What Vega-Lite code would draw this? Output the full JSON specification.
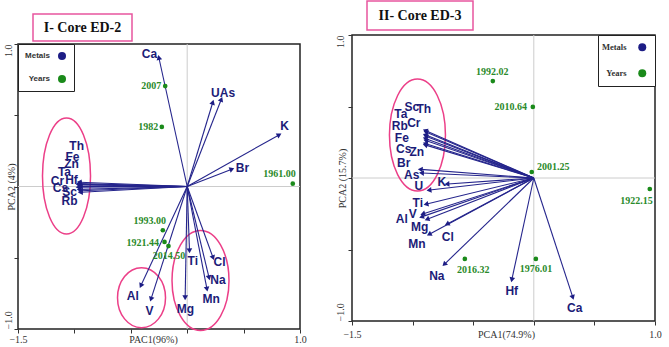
{
  "$schema": "https://vega.github.io/schema/vega-lite/v6.json",
  "background": "white",
  "padding": {"left": 2, "right": 0, "top": 0, "bottom": 0},
  "spacing": 27,
  "resolve": {"scale": {"color": "independent"}, "legend": {"color": "independent"}},
  "config": {
    "view": {"stroke": null},
    "font": "Liberation Sans",
    "axis": {
      "grid": false, "domain": false, "ticks": true, "tickSize": 4, "tickColor": "#333",
      "labelFont": "Liberation Serif", "labelFontSize": 10, "labelColor": "#333",
      "labelOverlap": false, "labelFlush": false, "labelBound": false,
      "titleFont": "Liberation Serif", "titleFontSize": 10, "titleFontWeight": "normal", "titleColor": "#333"
    },
    "axisX": {
      "format": ".1f",
      "labelExpr": "datum.index == 0 || datum.index == 1 ? datum.label : ''",
      "titleBaseline": "top", "titleAlign": "center"
    },
    "axisY": {
      "format": ".1f",
      "labelExpr": "datum.index == 0 || datum.index == 1 ? datum.label : ''",
      "labelAngle": 270, "labelBaseline": "bottom",
      "titleAngle": 270, "titleBaseline": "bottom"
    }
  },
  "datasets": {
    "metalsED2": [
      {"metal": "Ca", "x": -0.25, "y": 0.9, "labelX": -0.334, "labelY": 0.93},
      {"metal": "U", "x": 0.225, "y": 0.586, "labelX": 0.25, "labelY": 0.656},
      {"metal": "As", "x": 0.3, "y": 0.607, "labelX": 0.357, "labelY": 0.656},
      {"metal": "K", "x": 0.81, "y": 0.36, "labelX": 0.863, "labelY": 0.424},
      {"metal": "Br", "x": 0.39, "y": 0.12, "labelX": 0.49, "labelY": 0.13},
      {"metal": "Th", "x": -0.95, "y": 0.03, "labelX": -0.98, "labelY": 0.284},
      {"metal": "Fe", "x": -0.95, "y": 0.02, "labelX": -1.017, "labelY": 0.207},
      {"metal": "Zn", "x": -0.95, "y": 0.01, "labelX": -1.026, "labelY": 0.158},
      {"metal": "Ta", "x": -0.96, "y": 0.015, "labelX": -1.088, "labelY": 0.102},
      {"metal": "Hf", "x": -0.94, "y": 0.0, "labelX": -1.026, "labelY": 0.046},
      {"metal": "Cr", "x": -0.96, "y": -0.005, "labelX": -1.15, "labelY": 0.039},
      {"metal": "Cs", "x": -0.95, "y": -0.02, "labelX": -1.123, "labelY": -0.011},
      {"metal": "Sc", "x": -0.94, "y": -0.03, "labelX": -1.043, "labelY": -0.039},
      {"metal": "Rb", "x": -0.94, "y": -0.04, "labelX": -1.043, "labelY": -0.102},
      {"metal": "Ti", "x": 0.02, "y": -0.446, "labelX": 0.05, "labelY": -0.523},
      {"metal": "Cl", "x": 0.227, "y": -0.495, "labelX": 0.286, "labelY": -0.528},
      {"metal": "Na", "x": 0.192, "y": -0.635, "labelX": 0.272, "labelY": -0.658},
      {"metal": "Mn", "x": 0.174, "y": -0.715, "labelX": 0.213, "labelY": -0.79},
      {"metal": "Mg", "x": -0.018, "y": -0.775, "labelX": -0.015, "labelY": -0.862},
      {"metal": "Al", "x": -0.408, "y": -0.691, "labelX": -0.482, "labelY": -0.768},
      {"metal": "V", "x": -0.319, "y": -0.785, "labelX": -0.334, "labelY": -0.874}
    ],
    "yearsED2": [
      {"year": "2007", "x": -0.195, "y": 0.705, "labelX": -0.319, "labelY": 0.705},
      {"year": "1982", "x": -0.225, "y": 0.418, "labelX": -0.346, "labelY": 0.418},
      {"year": "1961.00", "x": 0.936, "y": 0.02, "labelX": 0.818, "labelY": 0.09},
      {"year": "1993.00", "x": -0.216, "y": -0.307, "labelX": -0.331, "labelY": -0.242},
      {"year": "1921.44", "x": -0.201, "y": -0.389, "labelX": -0.394, "labelY": -0.394},
      {"year": "2014.50", "x": -0.166, "y": -0.418, "labelX": -0.161, "labelY": -0.488}
    ],
    "metalsED3": [
      {"metal": "Sc", "x": -0.89, "y": 0.33, "labelX": -1.007, "labelY": 0.497},
      {"metal": "Th", "x": -0.885, "y": 0.32, "labelX": -0.908, "labelY": 0.483},
      {"metal": "Ta", "x": -0.89, "y": 0.3, "labelX": -1.097, "labelY": 0.448},
      {"metal": "Cr", "x": -0.885, "y": 0.29, "labelX": -0.99, "labelY": 0.385},
      {"metal": "Rb", "x": -0.89, "y": 0.275, "labelX": -1.106, "labelY": 0.364},
      {"metal": "Fe", "x": -0.885, "y": 0.26, "labelX": -1.089, "labelY": 0.28},
      {"metal": "Cs", "x": -0.89, "y": 0.24, "labelX": -1.073, "labelY": 0.203},
      {"metal": "Zn", "x": -0.89, "y": 0.23, "labelX": -0.965, "labelY": 0.182},
      {"metal": "Br", "x": -0.93, "y": 0.06, "labelX": -1.073, "labelY": 0.105},
      {"metal": "As", "x": -0.92, "y": 0.035, "labelX": -1.007, "labelY": 0.021},
      {"metal": "U", "x": -0.858, "y": -0.084, "labelX": -0.949, "labelY": -0.056},
      {"metal": "K", "x": -0.71, "y": -0.042, "labelX": -0.759, "labelY": -0.028},
      {"metal": "Ti", "x": -0.883, "y": -0.182, "labelX": -0.957, "labelY": -0.175},
      {"metal": "Al", "x": -0.92, "y": -0.27, "labelX": -1.089, "labelY": -0.287},
      {"metal": "V", "x": -0.91, "y": -0.25, "labelX": -0.998, "labelY": -0.252},
      {"metal": "Mg", "x": -0.875, "y": -0.287, "labelX": -0.941, "labelY": -0.343},
      {"metal": "Mn", "x": -0.858, "y": -0.392, "labelX": -0.965, "labelY": -0.462},
      {"metal": "Cl", "x": -0.71, "y": -0.32, "labelX": -0.71, "labelY": -0.413},
      {"metal": "Na", "x": -0.734, "y": -0.6, "labelX": -0.8, "labelY": -0.685},
      {"metal": "Hf", "x": -0.18, "y": -0.706, "labelX": -0.182, "labelY": -0.79},
      {"metal": "Ca", "x": 0.32, "y": -0.83, "labelX": 0.338, "labelY": -0.909}
    ],
    "yearsED3": [
      {"year": "1992.02", "x": -0.338, "y": 0.678, "labelX": -0.342, "labelY": 0.739},
      {"year": "2010.64", "x": -0.008, "y": 0.497, "labelX": -0.19, "labelY": 0.494},
      {"year": "2001.25", "x": -0.017, "y": 0.042, "labelX": 0.16, "labelY": 0.075},
      {"year": "1922.15", "x": 0.957, "y": -0.077, "labelX": 0.847, "labelY": -0.163},
      {"year": "2016.32", "x": -0.569, "y": -0.566, "labelX": -0.5, "labelY": -0.641},
      {"year": "1976.01", "x": 0.017, "y": -0.566, "labelX": 0.019, "labelY": -0.636}
    ]
  },
  "hconcat": [
    {
      "spacing": 0,
      "resolve": {"scale": {"color": "independent"}, "legend": {"color": "independent"}},
      "vconcat": [
        {"width": 1, "height": 12, "data": {"values": [{"blank": ""}]}, "mark": {"type": "text", "fontSize": 0}, "encoding": {"text": {"field": "blank"}}},
        {
          "spacing": 13,
          "hconcat": [
            {"width": 1, "height": 27, "data": {"values": [{"blank": ""}]}, "mark": {"type": "text", "fontSize": 0}, "encoding": {"text": {"field": "blank"}}},
            {
              "width": 99, "height": 27,
              "view": {"stroke": "#e8559f", "strokeWidth": 1.5},
              "data": {"values": [{"title": "I- Core ED-2"}]},
              "mark": {"type": "text", "font": "Liberation Serif", "fontWeight": "bold", "fontSize": 14, "color": "#111"},
              "encoding": {"text": {"field": "title"}}
            }
          ]
        },
        {
          "width": 282, "height": 285,
          "view": {"stroke": "#222", "strokeWidth": 1.5},
          "layer": [
            {
              "data": {"values": [{"origin": 0}]},
              "mark": {"type": "rule", "color": "#cccccc", "strokeWidth": 1},
              "encoding": {"x": {"field": "origin", "type": "quantitative", "scale": {"domain": [-1.5, 1], "nice": false, "zero": false}}}
            },
            {
              "data": {"values": [{"origin": 0}]},
              "mark": {"type": "rule", "color": "#cccccc", "strokeWidth": 1},
              "encoding": {"y": {"field": "origin", "type": "quantitative", "scale": {"domain": [-1, 1], "nice": false, "zero": false}}}
            },
            {
              "data": {"values": [{"x": -1.07, "y": 0.074}]},
              "mark": {"type": "point", "shape": "M -0.414 0 A 0.414 1 0 1 1 0.414 0 A 0.414 1 0 1 1 -0.414 0 Z", "size": 13456, "filled": false, "stroke": "#ec3f88", "strokeWidth": 1.5, "opacity": 1},
              "encoding": {
                "x": {"field": "x", "type": "quantitative", "scale": {"domain": [-1.5, 1], "nice": false, "zero": false}},
                "y": {"field": "y", "type": "quantitative", "scale": {"domain": [-1, 1], "nice": false, "zero": false}}
              }
            },
            {
              "data": {"values": [{"x": -0.405, "y": -0.78}]},
              "mark": {"type": "point", "shape": "M -0.8 0 A 0.8 1 0 1 1 0.8 0 A 0.8 1 0 1 1 -0.8 0 Z", "size": 3600, "filled": false, "stroke": "#ec3f88", "strokeWidth": 1.5, "opacity": 1},
              "encoding": {
                "x": {"field": "x", "type": "quantitative", "scale": {"domain": [-1.5, 1], "nice": false, "zero": false}},
                "y": {"field": "y", "type": "quantitative", "scale": {"domain": [-1, 1], "nice": false, "zero": false}}
              }
            },
            {
              "data": {"values": [{"x": 0.118, "y": -0.66}]},
              "mark": {"type": "point", "shape": "M -0.57 0 A 0.57 1 0 1 1 0.57 0 A 0.57 1 0 1 1 -0.57 0 Z", "size": 10000, "filled": false, "stroke": "#ec3f88", "strokeWidth": 1.5, "opacity": 1},
              "encoding": {
                "x": {"field": "x", "type": "quantitative", "scale": {"domain": [-1.5, 1], "nice": false, "zero": false}},
                "y": {"field": "y", "type": "quantitative", "scale": {"domain": [-1, 1], "nice": false, "zero": false}}
              }
            },
            {
              "data": {"name": "metalsED2"},
              "mark": {"type": "rule", "color": "#25258c", "strokeWidth": 1.1},
              "encoding": {
                "x": {"field": "x", "type": "quantitative", "scale": {"domain": [-1.5, 1], "nice": false, "zero": false}},
                "y": {"field": "y", "type": "quantitative", "scale": {"domain": [-1, 1], "nice": false, "zero": false}},
                "x2": {"datum": 0},
                "y2": {"datum": 0}
              }
            },
            {
              "data": {"name": "metalsED2"},
              "transform": [{"calculate": "atan2(datum.x * 112.8, datum.y * 142.5) * 180 / PI", "as": "heading"}],
              "mark": {"type": "point", "shape": "triangle", "filled": true, "size": 32, "opacity": 1},
              "encoding": {
                "x": {"field": "x", "type": "quantitative", "scale": {"domain": [-1.5, 1], "nice": false, "zero": false},
                  "axis": {"title": "PAC1(96%)", "values": [-1.5, -1, -0.5, 0, 0.5, 1], "titleX": 135, "titleY": 5, "labelPadding": 1}},
                "y": {"field": "y", "type": "quantitative", "scale": {"domain": [-1, 1], "nice": false, "zero": false},
                  "axis": {"title": "PCA2 (4%)", "values": [-1, -0.5, 0, 0.5, 1], "titleX": -2, "labelPadding": 1,
                    "labelAlign": {"condition": {"test": "datum.value > 0", "value": "right"}, "value": "left"}}},
                "angle": {"field": "heading", "type": "quantitative", "scale": null},
                "color": {"datum": "Metals", "type": "nominal", "scale": {"domain": ["Metals", "Years"], "range": ["#1d1d85", "#1a8a1a"]},
                  "legend": {"orient": "top-left", "offset": 0, "title": null, "fillColor": "white", "strokeColor": "#222",
                    "padding": 8, "rowPadding": 15, "labelFont": "Liberation Sans", "labelFontWeight": "bold", "labelFontSize": 8, "labelColor": "#333",
                    "symbolSize": 64, "symbolOffset": 32, "labelAlign": "right", "labelOffset": -16, "symbolStrokeWidth": 0,
                    "encode": {
                      "legend": {"update": {"strokeWidth": {"value": 1.5}}},
                      "symbols": {"update": {
                        "shape": {"signal": "datum.value === 'Metals' ? 'triangle-right' : 'circle'"},
                        "size": {"signal": "datum.value === 'Metals' ? 36 : 64"}}}}}}
              }
            },
            {
              "data": {"name": "metalsED2"},
              "mark": {"type": "text", "font": "Liberation Sans", "fontWeight": "bold", "fontSize": 12, "color": "#1c1c78"},
              "encoding": {
                "x": {"field": "labelX", "type": "quantitative", "scale": {"domain": [-1.5, 1], "nice": false, "zero": false}},
                "y": {"field": "labelY", "type": "quantitative", "scale": {"domain": [-1, 1], "nice": false, "zero": false}},
                "text": {"field": "metal"}
              }
            },
            {
              "data": {"name": "yearsED2"},
              "mark": {"type": "point", "filled": true, "size": 22, "opacity": 1},
              "encoding": {
                "x": {"field": "x", "type": "quantitative", "scale": {"domain": [-1.5, 1], "nice": false, "zero": false}},
                "y": {"field": "y", "type": "quantitative", "scale": {"domain": [-1, 1], "nice": false, "zero": false}},
                "color": {"datum": "Years", "type": "nominal"}
              }
            },
            {
              "data": {"name": "yearsED2"},
              "mark": {"type": "text", "font": "Liberation Serif", "fontWeight": "bold", "fontSize": 10, "color": "#2a8a2a"},
              "encoding": {
                "x": {"field": "labelX", "type": "quantitative", "scale": {"domain": [-1.5, 1], "nice": false, "zero": false}},
                "y": {"field": "labelY", "type": "quantitative", "scale": {"domain": [-1, 1], "nice": false, "zero": false}},
                "text": {"field": "year"}
              }
            }
          ]
        }
      ]
    },
    {
      "spacing": 2,
      "resolve": {"scale": {"color": "independent"}, "legend": {"color": "independent"}},
      "vconcat": [
        {
          "spacing": 13,
          "hconcat": [
            {"width": 1, "height": 29, "data": {"values": [{"blank": ""}]}, "mark": {"type": "text", "fontSize": 0}, "encoding": {"text": {"field": "blank"}}},
            {
              "width": 106, "height": 29,
              "view": {"stroke": "#e8559f", "strokeWidth": 1.5},
              "data": {"values": [{"title": "II- Core ED-3"}]},
              "mark": {"type": "text", "font": "Liberation Serif", "fontWeight": "bold", "fontSize": 14, "color": "#111"},
              "encoding": {"text": {"field": "title"}}
            }
          ]
        },
        {
          "width": 303, "height": 286,
          "view": {"stroke": "#222", "strokeWidth": 1.5},
          "layer": [
            {
              "data": {"values": [{"origin": 0}]},
              "mark": {"type": "rule", "color": "#cccccc", "strokeWidth": 1},
              "encoding": {"x": {"field": "origin", "type": "quantitative", "scale": {"domain": [-1.5, 1], "nice": false, "zero": false}}}
            },
            {
              "data": {"values": [{"origin": 0}]},
              "mark": {"type": "rule", "color": "#cccccc", "strokeWidth": 1},
              "encoding": {"y": {"field": "origin", "type": "quantitative", "scale": {"domain": [-1, 1], "nice": false, "zero": false}}}
            },
            {
              "data": {"values": [{"x": -0.96, "y": 0.3}]},
              "mark": {"type": "point", "shape": "M -0.5 0 A 0.5 1 0 1 1 0.5 0 A 0.5 1 0 1 1 -0.5 0 Z", "size": 12544, "filled": false, "stroke": "#ec3f88", "strokeWidth": 1.5, "opacity": 1},
              "encoding": {
                "x": {"field": "x", "type": "quantitative", "scale": {"domain": [-1.5, 1], "nice": false, "zero": false}},
                "y": {"field": "y", "type": "quantitative", "scale": {"domain": [-1, 1], "nice": false, "zero": false}}
              }
            },
            {
              "data": {"name": "metalsED3"},
              "mark": {"type": "rule", "color": "#25258c", "strokeWidth": 1.1},
              "encoding": {
                "x": {"field": "x", "type": "quantitative", "scale": {"domain": [-1.5, 1], "nice": false, "zero": false}},
                "y": {"field": "y", "type": "quantitative", "scale": {"domain": [-1, 1], "nice": false, "zero": false}},
                "x2": {"datum": 0},
                "y2": {"datum": 0}
              }
            },
            {
              "data": {"name": "metalsED3"},
              "transform": [{"calculate": "atan2(datum.x * 121.2, datum.y * 143) * 180 / PI", "as": "heading"}],
              "mark": {"type": "point", "shape": "triangle", "filled": true, "size": 32, "opacity": 1},
              "encoding": {
                "x": {"field": "x", "type": "quantitative", "scale": {"domain": [-1.5, 1], "nice": false, "zero": false},
                  "axis": {"title": "PCA1(74.9%)", "values": [-1.5, -1, -0.5, 0, 0.5, 1], "titleX": 154, "titleY": 8, "labelPadding": 4}},
                "y": {"field": "y", "type": "quantitative", "scale": {"domain": [-1, 1], "nice": false, "zero": false},
                  "axis": {"title": "PCA2 (15.7%)", "values": [-1, -0.5, 0, 0.5, 1], "titleX": -5, "labelPadding": 3,
                    "labelAlign": {"condition": {"test": "datum.value > 0", "value": "right"}, "value": "left"}}},
                "angle": {"field": "heading", "type": "quantitative", "scale": null},
                "color": {"datum": "Metals", "type": "nominal", "scale": {"domain": ["Metals", "Years"], "range": ["#1d1d85", "#1a8a1a"]},
                  "legend": {"orient": "top-right", "offset": 0, "title": null, "fillColor": "white", "strokeColor": "#222",
                    "padding": 8, "rowPadding": 17, "labelFont": "Liberation Serif", "labelFontWeight": "bold", "labelFontSize": 8.5, "labelColor": "#333",
                    "symbolSize": 64, "symbolOffset": 32, "labelAlign": "right", "labelOffset": -20, "symbolStrokeWidth": 0,
                    "encode": {
                      "legend": {"update": {"strokeWidth": {"value": 1.5}}},
                      "symbols": {"update": {
                        "shape": {"signal": "datum.value === 'Metals' ? 'triangle-right' : 'circle'"},
                        "size": {"signal": "datum.value === 'Metals' ? 36 : 64"}}}}}}
              }
            },
            {
              "data": {"name": "metalsED3"},
              "mark": {"type": "text", "font": "Liberation Sans", "fontWeight": "bold", "fontSize": 12, "color": "#1c1c78"},
              "encoding": {
                "x": {"field": "labelX", "type": "quantitative", "scale": {"domain": [-1.5, 1], "nice": false, "zero": false}},
                "y": {"field": "labelY", "type": "quantitative", "scale": {"domain": [-1, 1], "nice": false, "zero": false}},
                "text": {"field": "metal"}
              }
            },
            {
              "data": {"name": "yearsED3"},
              "mark": {"type": "point", "filled": true, "size": 22, "opacity": 1},
              "encoding": {
                "x": {"field": "x", "type": "quantitative", "scale": {"domain": [-1.5, 1], "nice": false, "zero": false}},
                "y": {"field": "y", "type": "quantitative", "scale": {"domain": [-1, 1], "nice": false, "zero": false}},
                "color": {"datum": "Years", "type": "nominal"}
              }
            },
            {
              "data": {"name": "yearsED3"},
              "mark": {"type": "text", "font": "Liberation Serif", "fontWeight": "bold", "fontSize": 10, "color": "#2a8a2a"},
              "encoding": {
                "x": {"field": "labelX", "type": "quantitative", "scale": {"domain": [-1.5, 1], "nice": false, "zero": false}},
                "y": {"field": "labelY", "type": "quantitative", "scale": {"domain": [-1, 1], "nice": false, "zero": false}},
                "text": {"field": "year"}
              }
            }
          ]
        }
      ]
    }
  ]
}
